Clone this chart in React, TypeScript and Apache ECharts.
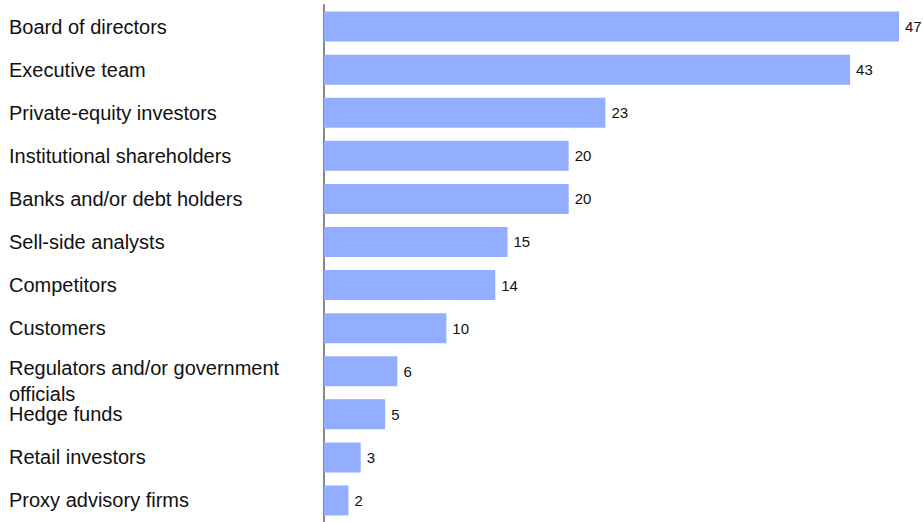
import React, { useEffect, useRef } from "react";
import * as echarts from "echarts";

const categories = [
  "Board of directors",
  "Executive team",
  "Private-equity investors",
  "Institutional shareholders",
  "Banks and/or debt holders",
  "Sell-side analysts",
  "Competitors",
  "Customers",
  "Regulators and/or government officials",
  "Hedge funds",
  "Retail investors",
  "Proxy advisory firms",
];
const values = [47, 43, 23, 20, 20, 15, 14, 10, 6, 5, 3, 2];

export default function App() {
  const ref = useRef<HTMLDivElement>(null);
  useEffect(() => {
    if (!ref.current) return;
    const chart = echarts.init(ref.current, undefined, { renderer: "svg" });
    const font = "Liberation Sans, Arial, sans-serif";
    chart.setOption({
      animation: false,
      grid: {
        left: 324,
        right: 24,
        top: 5,
        bottom: 0,
        containLabel: false,
        outerBoundsMode: "none",
      },
      xAxis: {
        type: "value",
        min: 0,
        max: 47,
        show: false,
      },
      yAxis: {
        type: "category",
        inverse: true,
        data: categories,
        axisLine: { show: true, lineStyle: { color: "#888888", width: 2 } },
        axisTick: { show: false },
        axisLabel: {
          align: "left",
          margin: 315,
          color: "#111111",
          fontSize: 20,
          fontFamily: font,
          lineHeight: 26,
          width: 295,
          overflow: "break",
          formatter: (v: string) => (v.length > 30 ? "{r|" + v + "}" : v),
          rich: {
            r: {
              color: "#111111",
              fontSize: 20,
              fontFamily: font,
              lineHeight: 26,
              padding: [19, 0, 0, 0],
            },
          },
        },
      },
      series: [
        {
          type: "bar",
          data: values,
          barWidth: 30,
          itemStyle: { color: "#93AEFF" },
          label: {
            show: true,
            position: "right",
            distance: 6,
            color: "#111111",
            fontSize: 15,
            fontFamily: font,
          },
        },
      ],
    });
    return () => chart.dispose();
  }, []);
  return <div ref={ref} style={{ width: 923, height: 522, position: "absolute", left: 0, top: 0 }} />;
}
